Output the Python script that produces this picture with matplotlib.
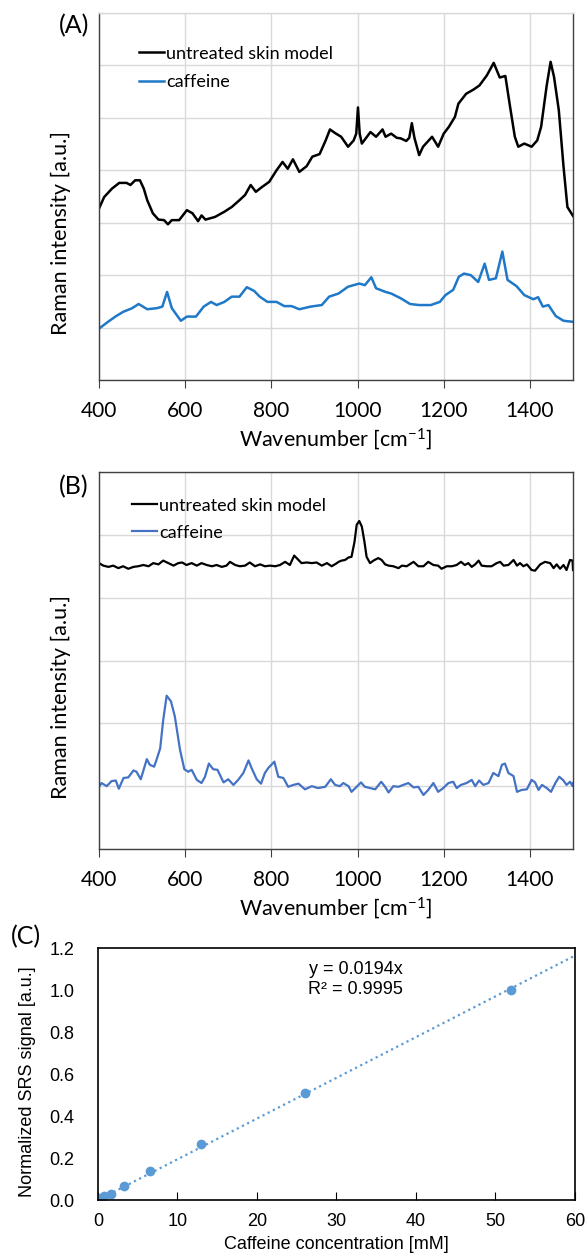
import numpy as np
import matplotlib
matplotlib.use("Agg")
import matplotlib.pyplot as plt

plt.rcParams['font.family'] = ['Lato', 'DejaVu Sans']
plt.rcParams['mathtext.fontset'] = 'custom'
plt.rcParams['mathtext.rm'] = 'Lato'
plt.rcParams['mathtext.default'] = 'regular'

# ---- panel A: spectra (intensity in grid units) ----
wnA_skin = [400, 412, 430, 447, 464, 473, 484, 495, 504, 512, 525, 538, 551, 560, 569, 586,
            604, 617, 630, 638, 647, 669, 691, 708, 726, 739, 752, 764, 778, 795, 812, 826,
            838, 850, 865, 882, 895, 912, 926, 936, 948, 962, 978, 991, 997, 1001, 1005, 1010,
            1030, 1043, 1058, 1065, 1078, 1091, 1100, 1113, 1120, 1126, 1132, 1143, 1152, 1173,
            1187, 1200, 1212, 1226, 1234, 1252, 1269, 1283, 1300, 1316, 1330, 1343, 1354, 1365,
            1373, 1387, 1404, 1417, 1426, 1439, 1448, 1456, 1467, 1478, 1487, 1500]
iA_skin = [3.27, 3.49, 3.65, 3.76, 3.76, 3.72, 3.81, 3.81, 3.65, 3.43, 3.18, 3.06, 3.05, 2.97, 3.05, 3.05,
           3.24, 3.18, 3.03, 3.14, 3.06, 3.11, 3.21, 3.30, 3.43, 3.53, 3.72, 3.59, 3.68, 3.78, 4.00, 4.16,
           4.03, 4.21, 3.97, 4.08, 4.26, 4.31, 4.57, 4.78, 4.71, 4.64, 4.45, 4.57, 4.70, 5.20, 4.70, 4.51,
           4.73, 4.64, 4.78, 4.64, 4.70, 4.62, 4.61, 4.56, 4.62, 4.90, 4.62, 4.29, 4.45, 4.64,
           4.45, 4.70, 4.83, 5.02, 5.27, 5.46, 5.54, 5.62, 5.81, 6.05, 5.77, 5.80, 5.21, 4.64,
           4.45, 4.51, 4.45, 4.57, 4.83, 5.62, 6.07, 5.78, 5.15, 4.07, 3.30, 3.13]

wnA_caf = [400, 421, 438, 456, 477, 492, 512, 534, 547, 558, 569, 590, 604, 625, 643, 660,
           673, 691, 708, 726, 743, 760, 773, 791, 812, 830, 847, 865, 891, 917, 934, 956,
           978, 1004, 1017, 1032, 1043, 1065, 1078, 1100, 1122, 1143, 1170, 1191, 1204, 1222,
           1235, 1247, 1263, 1280, 1295, 1305, 1321, 1336, 1348, 1369, 1387, 1408, 1419, 1430,
           1443, 1460, 1478, 1500]
iA_caf = [0.98, 1.11, 1.21, 1.30, 1.37, 1.45, 1.35, 1.37, 1.40, 1.68, 1.37, 1.13, 1.21, 1.21, 1.40, 1.49,
          1.43, 1.49, 1.59, 1.59, 1.77, 1.70, 1.59, 1.49, 1.49, 1.41, 1.41, 1.35, 1.40, 1.43, 1.59, 1.65,
          1.78, 1.84, 1.81, 1.96, 1.75, 1.68, 1.65, 1.56, 1.45, 1.43, 1.43, 1.49, 1.62, 1.72,
          1.97, 2.03, 2.00, 1.87, 2.22, 1.91, 1.94, 2.45, 1.91, 1.79, 1.62, 1.54, 1.58, 1.40,
          1.43, 1.22, 1.13, 1.11]

# ---- panel B: difference spectra ----
wnB_skin = [400, 410, 422, 433, 445, 456, 468, 480, 491, 503, 515, 526, 538, 549, 561, 573,
            584, 593, 603, 615, 627, 638, 650, 662, 673, 685, 696, 704, 716, 727, 739, 750,
            762, 774, 785, 797, 809, 820, 832, 843, 853, 863, 870, 882, 894, 905, 917, 929,
            940, 952, 956, 963, 971, 979, 986, 993, 998, 1004, 1010, 1016, 1021, 1029, 1037,
            1048, 1056, 1064, 1072, 1083, 1095, 1103, 1114, 1130, 1141, 1153, 1164, 1176, 1187,
            1195, 1207, 1219, 1230, 1240, 1249, 1257, 1265, 1273, 1281, 1288, 1300, 1311, 1323,
            1331, 1339, 1350, 1362, 1370, 1377, 1385, 1393, 1404, 1412, 1424, 1435, 1447, 1455,
            1462, 1470, 1478, 1485, 1493, 1499, 1500]
iB_skin = [4.55, 4.51, 4.49, 4.51, 4.47, 4.50, 4.46, 4.49, 4.50, 4.52, 4.50, 4.55, 4.53, 4.59, 4.55, 4.51,
           4.55, 4.56, 4.52, 4.55, 4.51, 4.55, 4.52, 4.50, 4.52, 4.49, 4.51, 4.57, 4.52, 4.50, 4.51, 4.56,
           4.50, 4.53, 4.50, 4.51, 4.50, 4.52, 4.57, 4.52, 4.67, 4.60, 4.55, 4.56, 4.55, 4.56, 4.51, 4.55,
           4.50, 4.55, 4.57, 4.59, 4.60, 4.64, 4.65, 4.89, 5.16, 5.22, 5.13, 4.89, 4.65, 4.55, 4.59,
           4.63, 4.60, 4.53, 4.51, 4.50, 4.47, 4.51, 4.50, 4.57, 4.50, 4.50, 4.57, 4.52, 4.51,
           4.46, 4.50, 4.50, 4.52, 4.57, 4.52, 4.55, 4.49, 4.53, 4.59, 4.51, 4.50, 4.50, 4.55,
           4.57, 4.51, 4.52, 4.60, 4.51, 4.55, 4.50, 4.53, 4.44, 4.43, 4.53, 4.57, 4.55, 4.47,
           4.53, 4.46, 4.52, 4.44, 4.60, 4.59, 4.44]

wnB_caf = [400, 406, 418, 429, 439, 446, 457, 468, 480, 487, 497, 511, 518, 528, 534, 542,
           549, 557, 567, 576, 588, 598, 607, 615, 627, 638, 646, 655, 665, 675, 689, 700,
           712, 723, 735, 747, 754, 766, 776, 785, 793, 807, 816, 828, 839, 851, 863, 878,
           894, 908, 925, 938, 948, 959, 967, 979, 986, 998, 1008, 1017, 1029, 1041, 1055,
           1064, 1072, 1083, 1095, 1106, 1118, 1130, 1141, 1153, 1164, 1176, 1187, 1199, 1211,
           1222, 1230, 1240, 1253, 1265, 1273, 1282, 1292, 1304, 1315, 1327, 1335, 1342, 1350,
           1362, 1370, 1381, 1393, 1404, 1412, 1420, 1428, 1439, 1449, 1459, 1468, 1478, 1485,
           1493, 1499, 1500]
iB_caf = [0.99, 1.05, 1.00, 1.08, 1.09, 0.96, 1.13, 1.14, 1.25, 1.23, 1.11, 1.43, 1.34, 1.31, 1.43, 1.60,
          2.05, 2.44, 2.35, 2.11, 1.58, 1.27, 1.23, 1.26, 1.10, 1.05, 1.15, 1.36, 1.27, 1.26, 1.06, 1.11,
          1.02, 1.10, 1.21, 1.41, 1.29, 1.11, 1.04, 1.21, 1.29, 1.39, 1.15, 1.13, 0.99, 1.02, 1.04, 0.95,
          1.00, 0.97, 0.99, 1.11, 1.02, 1.00, 1.05, 1.00, 0.91, 0.99, 1.06, 0.99, 0.97, 0.95, 1.07,
          0.99, 0.90, 1.00, 0.99, 1.02, 1.05, 0.98, 0.99, 0.86, 0.94, 1.05, 0.91, 0.97, 1.05,
          1.07, 0.97, 1.02, 1.05, 1.10, 1.00, 1.09, 1.02, 1.05, 1.21, 1.16, 1.34, 1.36, 1.21,
          1.16, 0.91, 0.94, 0.95, 1.10, 1.06, 0.94, 1.02, 0.97, 0.91, 1.05, 1.15, 1.09, 1.02,
          1.07, 1.00, 1.05]

# ---- panel C: calibration ----
conc = [0.1, 0.2, 0.41, 0.81, 1.63, 3.25, 6.5, 13, 26, 52]
srs = [0.003, 0.005, 0.010, 0.018, 0.031, 0.066, 0.137, 0.268, 0.509, 1.0]
slope = 0.0194
r2 = 0.9995

fig = plt.figure(figsize=(5.85, 12.55), dpi=100)

grid_c = '#d9d9d9'
spine_c = '#404040'


def spectrum_axes(ax, ymax):
    ax.set_xlim(400, 1500)
    ax.set_ylim(0, ymax)
    ax.set_xticks(np.arange(400, 1401, 200))
    ax.set_yticks(np.arange(0, ymax + 1, 1))
    ax.grid(True, color=grid_c, linewidth=1)
    ax.set_axisbelow(True)
    ax.tick_params(axis='y', left=False, labelleft=False)
    ax.tick_params(axis='x', direction='out', length=6, color=spine_c, labelsize=15, pad=9)
    for s in ax.spines.values():
        s.set_color(spine_c)
        s.set_linewidth(1)
    ax.set_xlabel('Wavenumber [cm$^{-1}$]', fontsize=15.5, labelpad=4)
    ax.set_ylabel('Raman intensity [a.u.]', fontsize=15.5)


axA = fig.add_axes([0.1692, 0.6972, 0.8103, 0.2924])
axA.plot(wnA_skin, iA_skin, color='black', lw=1.8, label='untreated skin model')
axA.plot(wnA_caf, iA_caf, color='#1f78c8', lw=1.8, label='caffeine')
spectrum_axes(axA, 7)
axA.spines['top'].set_color(grid_c)
axA.yaxis.set_label_coords(-0.06, 0.40)
axA.legend(loc='upper left', bbox_to_anchor=(0.05, 0.955), frameon=False, fontsize=13,
           handlelength=1.4, handletextpad=0.1, labelspacing=0.7)
fig.text(74 / 585, 1 - 26 / 1255, '(A)', fontsize=18, ha='center', va='center')

axB = fig.add_axes([0.1692, 0.3235, 0.8103, 0.3004])
axB.plot(wnB_skin, iB_skin, color='black', lw=1.6, label='untreated skin model')
axB.plot(wnB_caf, iB_caf, color='#4472c4', lw=1.6, label='caffeine')
spectrum_axes(axB, 6)
axB.yaxis.set_label_coords(-0.06, 0.403)
axB.legend(loc='upper left', bbox_to_anchor=(0.035, 0.975), frameon=False, fontsize=13,
           handlelength=1.4, handletextpad=0.1, labelspacing=0.6)
fig.text(74 / 585, 1 - 487 / 1255, '(B)', fontsize=18, ha='center', va='center')

# panel C in Arial-like font
cf = ['Liberation Sans', 'DejaVu Sans']
axC = fig.add_axes([0.1675, 0.0438, 0.8154, 0.2008])
xfit = np.array([0, 60])
axC.plot(xfit, slope * xfit, color='#5b9bd5', lw=1.6, ls=(0, (1, 1.6)))
axC.plot(conc, srs, 'o', color='#5b9bd5', ms=6)
axC.set_xlim(0, 60)
axC.set_ylim(0, 1.2)
axC.set_xticks(np.arange(0, 61, 10))
axC.set_yticks(np.arange(0, 1.21, 0.2))
axC.set_yticklabels([f'{v:.1f}' for v in np.arange(0, 1.21, 0.2)], family=cf)
axC.set_xticklabels([str(v) for v in range(0, 61, 10)], family=cf)
axC.tick_params(axis='x', direction='in', length=6, labelsize=13, pad=9)
axC.tick_params(axis='y', length=0, labelsize=13, pad=17)
for s in axC.spines.values():
    s.set_color('black')
    s.set_linewidth(1.2)
axC.set_xlabel('Caffeine concentration [mM]', fontsize=13, family=cf, labelpad=5)
axC.set_ylabel('Normalized SRS signal [a.u.]', fontsize=13, family=cf)
axC.yaxis.set_label_coords(-0.13, 0.47)
axC.text(0.54, 0.915, f'y = {slope}x', transform=axC.transAxes, ha='center', va='center',
         fontsize=13, family=cf)
axC.text(0.54, 0.835, f'R\u00b2 = {r2}', transform=axC.transAxes, ha='center', va='center',
         fontsize=13, family=cf)
fig.text(26 / 585, 1 - 937 / 1255, '(C)', fontsize=18, ha='center', va='center')

fig.savefig('out.png', dpi=100)
